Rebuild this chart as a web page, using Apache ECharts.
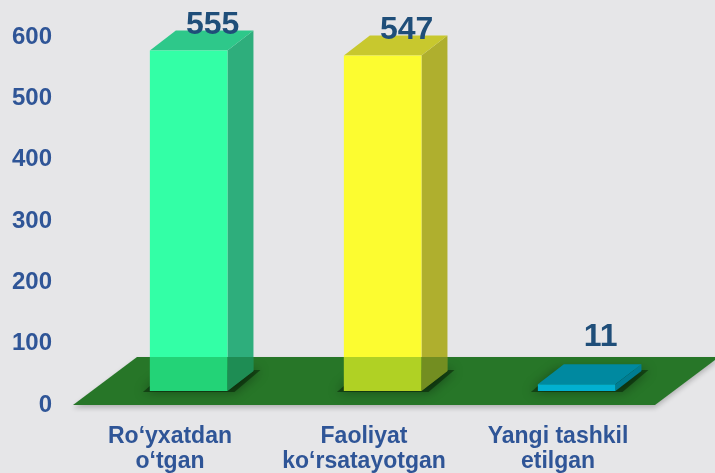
<!DOCTYPE html>
<html>
<head>
<meta charset="utf-8">
<title>Bar chart</title>
<script src="https://cdn.jsdelivr.net/npm/echarts@6/dist/echarts.min.js"></script>
<style>
  html, body { margin: 0; padding: 0; background: #e6e6e8; }
  #chart { width: 715px; height: 473px; }
</style>
</head>
<body>
<div id="chart"></div>
<script>
// Chart data
const categories = ['Ro\u2018yxatdan\no\u2018tgan', 'Faoliyat\nko\u2018rsatayotgan', 'Yangi tashkil\netilgan'];
const values = [555, 547, 11];
const yMin = 0;
const yMax = 600;
const yStep = 100;

// Face colours per bar: front, top, side
const frontColors = ['#33ffa6', '#fcfc30', '#02b0d0'];
const topColors = ['#2ec88a', '#c8c82e', '#0089a0'];
const sideColors = ['#2eae7c', '#afaf2e', '#007d92'];

const FONT = '"Liberation Sans", Arial, sans-serif';
const FLOOR_DX = 64, FLOOR_DY = -48;   // floor depth
const BAR_DEPTH_FRAC = 14 / 48;         // bars stand partway into the floor
const BAR_DX = 26, BAR_DY = -20;        // bar depth
const BAR_WIDTH = 0.4;                  // fraction of a category band

function floorShape(cs) {
  const y0 = cs.y + cs.height;
  return [
    [cs.x, y0],
    [cs.x + cs.width, y0],
    [cs.x + cs.width + FLOOR_DX, y0 + FLOOR_DY],
    [cs.x + FLOOR_DX, y0 + FLOOR_DY]
  ];
}

function barGeom(api) {
  const idx = api.value(0);
  const v = api.value(1);
  const base = api.coord([idx, 0]);
  const top = api.coord([idx, v]);
  const band = api.size([1, 0])[0];
  const w = band * BAR_WIDTH;
  const cx = base[0] + FLOOR_DX * BAR_DEPTH_FRAC;
  const sy = FLOOR_DY * BAR_DEPTH_FRAC;
  return { x0: cx - w / 2, x1: cx + w / 2, yb: base[1] + sy, yt: top[1] + sy, cx: cx };
}

const seriesData = values.map((v, i) => [i, v]);

const option = {
  backgroundColor: '#e6e6e8',
  animation: false,
  grid: { left: 73, right: 60, top: 37, bottom: 68, outerBoundsMode: 'none' },
  xAxis: {
    type: 'category',
    data: categories,
    axisLine: { show: false },
    axisTick: { show: false },
    axisLabel: {
      interval: 0,
      margin: 19,
      color: '#2f5597',
      fontFamily: FONT,
      fontWeight: 'bold',
      fontSize: 23,
      lineHeight: 25
    }
  },
  yAxis: {
    type: 'value',
    min: yMin,
    max: yMax,
    interval: yStep,
    axisLine: { show: false },
    axisTick: { show: false },
    splitLine: { show: false },
    axisLabel: {
      margin: 21,
      color: '#2f5597',
      fontFamily: FONT,
      fontWeight: 'bold',
      fontSize: 24
    }
  },
  series: [
    {
      // green floor
      type: 'custom',
      z: 1,
      silent: true,
      data: [[0, 0]],
      renderItem: function (params, api) {
        return {
          type: 'polygon',
          shape: { points: floorShape(params.coordSys) },
          style: {
            fill: '#277628',
            shadowBlur: 5,
            shadowOffsetY: 3,
            shadowColor: 'rgba(0,0,0,0.22)'
          }
        };
      }
    },
    {
      // 3D bars with their floor shadows
      type: 'custom',
      z: 2,
      data: seriesData,
      renderItem: function (params, api) {
        const g = barGeom(api);
        const i = params.dataIndex;
        const cs = params.coordSys;
        const floorTop = cs.y + cs.height + FLOOR_DY;
        const e = 7;
        const children = [
          {
            type: 'polygon',
            shape: { points: [
              [g.x0 - e, g.yb + 1], [g.x1 + e, g.yb + 1],
              [g.x1 + BAR_DX + e, g.yb + BAR_DY - 1], [g.x0 + BAR_DX - e, g.yb + BAR_DY - 1]
            ] },
            style: { fill: 'rgba(0,15,0,0.45)', shadowBlur: 12, shadowColor: 'rgba(0,0,0,0.85)' }
          },
          {
            type: 'polygon',
            shape: { points: [
              [g.x1, g.yt], [g.x1 + BAR_DX, g.yt + BAR_DY],
              [g.x1 + BAR_DX, g.yb + BAR_DY], [g.x1, g.yb]
            ] },
            style: { fill: sideColors[i] }
          },
          {
            type: 'polygon',
            shape: { points: [
              [g.x0, g.yt], [g.x1, g.yt],
              [g.x1 + BAR_DX, g.yt + BAR_DY], [g.x0 + BAR_DX, g.yt + BAR_DY]
            ] },
            style: { fill: topColors[i] }
          },
          {
            type: 'rect',
            shape: { x: g.x0, y: g.yt, width: g.x1 - g.x0, height: g.yb - g.yt },
            style: { fill: frontColors[i] }
          }
        ];
        // a tall bar shows a darker band where it stands inside the floor
        if (g.yt + BAR_DY < floorTop) {
          children.push({
            type: 'rect',
            shape: { x: g.x0, y: floorTop, width: g.x1 - g.x0, height: g.yb - floorTop },
            style: { fill: 'rgba(0,110,10,0.3)' }
          });
          children.push({
            type: 'polygon',
            shape: { points: [
              [g.x1, floorTop], [g.x1 + BAR_DX, floorTop],
              [g.x1 + BAR_DX, g.yb + BAR_DY], [g.x1, g.yb]
            ] },
            style: { fill: 'rgba(0,80,10,0.34)' }
          });
        }
        return { type: 'group', children: children };
      }
    },
    {
      // value labels above the bars
      type: 'custom',
      z: 4,
      silent: true,
      data: seriesData,
      renderItem: function (params, api) {
        const g = barGeom(api);
        const backTop = g.yt + BAR_DY;
        const y = Math.min(backTop - 5, g.yb - 54);
        return {
          type: 'text',
          style: {
            x: g.cx + 24,
            y: y,
            text: String(api.value(1)),
            fill: '#1f4e79',
            font: 'bold 32px ' + FONT,
            align: 'center',
            verticalAlign: 'middle'
          }
        };
      }
    }
  ]
};

const chart = echarts.init(document.getElementById('chart'), null, { renderer: 'canvas' });
chart.setOption(option);
</script>
</body>
</html>
